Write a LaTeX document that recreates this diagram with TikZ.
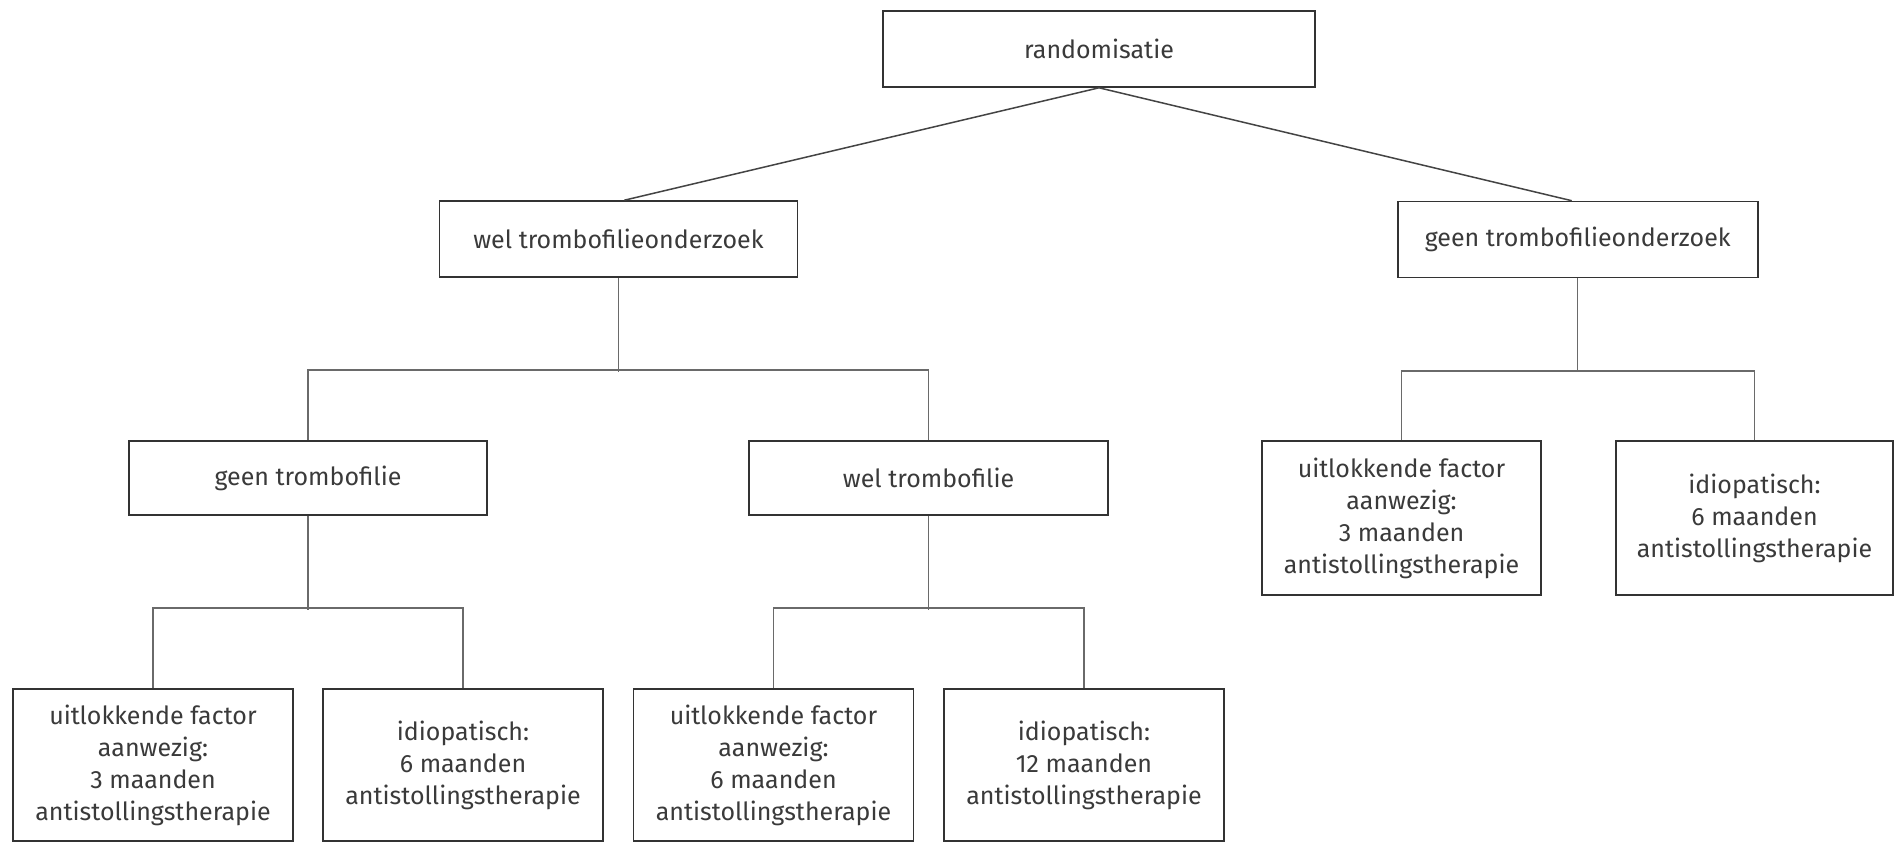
\documentclass[tikz,border=0pt]{standalone}
\usepackage{fontspec}
\setmainfont{Fira Sans}
\definecolor{boxline}{HTML}{333333}
\definecolor{conline}{HTML}{6A6A6A}
\definecolor{diagline}{HTML}{444444}
\definecolor{txt}{HTML}{3A3A3A}
\begin{document}
\begin{tikzpicture}[x=1pt,y=-1pt,
  box/.style={draw=boxline,line width=1.6pt,fill=white,inner sep=0pt,align=center,
    text=txt,font=\fontsize{25}{32}\selectfont},
  topbox/.style={box,minimum height=76pt},
  midbox/.style={box,minimum height=74pt},
  leafbox/.style={box,minimum width=280pt,minimum height=152pt},
  rleafbox/.style={box,minimum width=279pt,minimum height=154pt},
  con/.style={draw=conline,line width=1.5pt},
  diag/.style={draw=diagline,line width=1.5pt}]
\useasboundingbox (0,0) rectangle (1894,842);
\fill[white] (0,0) rectangle (1894,842);

% nodes
\node[topbox,minimum width=432pt] (rand) at (1099,49) {randomisatie};
\node[topbox,minimum width=358pt] (welO) at (618.4,239) {wel trombofilieonderzoek};
\node[topbox,minimum width=360pt] (geenO) at (1577.7,239.5) {geen trombofilieonderzoek};
\node[midbox,minimum width=358pt] (geenT) at (308,478) {geen trombofilie};
\node[midbox,minimum width=359pt] (welT) at (928.5,478) {wel trombofilie};
\node[leafbox] (b1) at (153,765) {uitlokkende factor\\aanwezig:\\3 maanden\\antistollingstherapie};
\node[leafbox] (b2) at (463,765) {idiopatisch:\\6 maanden\\antistollingstherapie};
\node[leafbox] (b3) at (773.5,765) {uitlokkende factor\\aanwezig:\\6 maanden\\antistollingstherapie};
\node[leafbox] (b4) at (1084,765) {idiopatisch:\\12 maanden\\antistollingstherapie};
\node[rleafbox] (r1) at (1401.5,518) {uitlokkende factor\\aanwezig:\\3 maanden\\antistollingstherapie};
\node[rleafbox,minimum width=277pt] (r2) at (1754.5,518) {idiopatisch:\\6 maanden\\antistollingstherapie};

% connectors
\draw[diag] (rand.south) -- ([xshift=6pt]welO.north);
\draw[diag] (rand.south) -- ([xshift=-6pt]geenO.north);

\draw[con] (welO.south) -- ++(0,94);
\draw[con] (geenT.north) -- ++(0,-70) -| (welT.north);

\draw[con] (geenT.south) -- ++(0,94);
\draw[con] (b1.north) -- ++(0,-80) -| (b2.north);

\draw[con] (welT.south) -- ++(0,94);
\draw[con] (b3.north) -- ++(0,-80) -| (b4.north);

\draw[con] (geenO.south) -- ++(0,94);
\draw[con] (r1.north) -- ++(0,-69) -| (r2.north);
\end{tikzpicture}
\end{document}
